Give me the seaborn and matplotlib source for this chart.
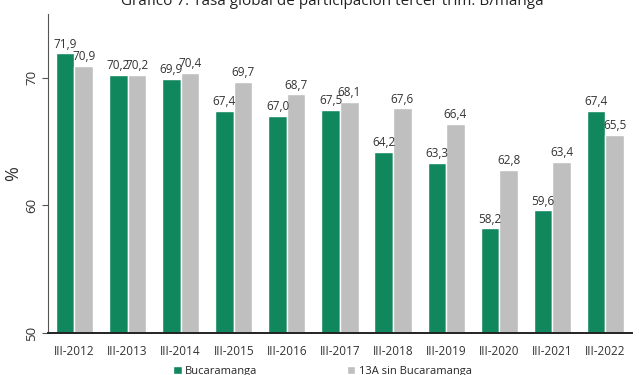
import pandas as pd
import matplotlib.pyplot as plt
import seaborn as sns

# data
periods = ['III-2012', 'III-2013', 'III-2014', 'III-2015', 'III-2016', 'III-2017',
           'III-2018', 'III-2019', 'III-2020', 'III-2021', 'III-2022']
bucaramanga = [71.9, 70.2, 69.9, 67.4, 67.0, 67.5, 64.2, 63.3, 58.2, 59.6, 67.4]
trece_a = [70.9, 70.2, 70.4, 69.7, 68.7, 68.1, 67.6, 66.4, 62.8, 63.4, 65.5]
series_names = ['Bucaramanga', '13A sin Bucaramanga']
colors = ['#11875e', '#bfbfbf']

df = pd.DataFrame({
    'periodo': periods * 2,
    'serie': [series_names[0]] * len(periods) + [series_names[1]] * len(periods),
    'valor': bucaramanga + trece_a,
})

sns.set_style('white')
plt.rcParams['font.family'] = ['Open Sans', 'DejaVu Sans']

fig = plt.figure(figsize=(6.39, 3.75), dpi=100)
ax = fig.add_axes([0.075, 0.112, 0.914, 0.851])

sns.barplot(data=df, x='periodo', y='valor', hue='serie', order=periods,
            hue_order=series_names, palette=colors, width=0.7, gap=0.0,
            saturation=1, ax=ax, legend=True)

ax.set_ylim(50, 75)
ax.set_yticks([50, 60, 70])
ax.set_yticklabels(['50', '60', '70'], rotation=90, va='center', fontsize=9.5, color='#333333')
ax.tick_params(axis='y', left=True, length=4, width=0.8, color='#555555', pad=3)
ax.tick_params(axis='x', bottom=False, labelsize=8.5, labelcolor='#333333', pad=5)
ax.set_xlabel('')
ax.set_ylabel('%', fontsize=13, color='#333333', labelpad=2)

for s in ['top', 'right']:
    ax.spines[s].set_visible(False)
ax.spines['left'].set_color('#555555')
ax.spines['bottom'].set_color('#222222')
ax.spines['bottom'].set_linewidth(1.4)

for cont in ax.containers:
    ax.bar_label(cont, labels=[f'{v:.1f}'.replace('.', ',') for v in cont.datavalues],
                 fontsize=8.5, color='#333333', padding=2)

leg = ax.legend(loc='upper center', bbox_to_anchor=(0.47, -0.085), ncol=2,
                frameon=False, fontsize=8, handlelength=0.8, handleheight=0.8,
                handletextpad=0.3, columnspacing=8, borderpad=0)

fig.text(0.52, 0.975, 'Gráfico 7: Tasa global de participación tercer trim. B/manga',
         ha='center', va='bottom', fontsize=11, color='#222222')

fig.savefig('out.png', dpi=100)
